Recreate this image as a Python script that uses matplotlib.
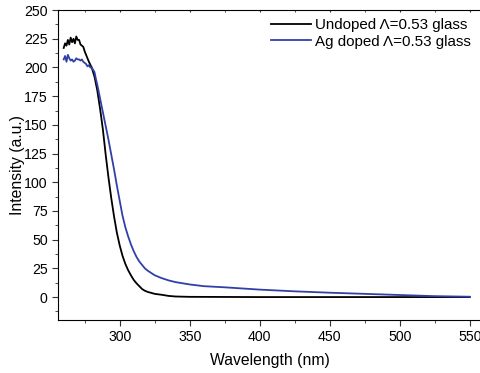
import matplotlib.pyplot as plt
from matplotlib.ticker import MultipleLocator

plt.rcParams['font.family'] = ['Liberation Sans', 'DejaVu Sans']

# undoped glass
wl_undoped = [260, 261, 262, 263, 264, 265, 266, 267, 268, 269, 270, 271, 272, 273, 274,
              275, 276, 277, 278, 280, 282, 284, 286, 288, 290, 292, 294, 296, 298, 300,
              302, 304, 306, 308, 310, 312, 314, 316, 318, 320, 325, 330, 335, 340, 350,
              400, 450, 500, 550]
int_undoped = [217, 221, 219, 224, 220, 226, 222, 225, 221, 227, 224, 224, 220, 219, 218,
               214, 211, 208, 205, 200, 192, 180, 164, 146, 124, 104, 86, 70, 56, 45,
               36, 29, 23.5, 19, 15, 12, 9.5, 7, 5.5, 4.5, 2.8, 2, 1, 0.5, 0.2,
               0, 0, 0, 0]

# Ag doped glass
wl_doped = [260, 261, 262, 263, 264, 265, 266, 267, 268, 269, 270, 271, 272, 273, 274,
            275, 276, 277, 278, 279, 280, 282, 283, 284, 286, 288, 290, 292, 294, 296,
            297, 298, 300, 302, 304, 306, 308, 310, 312, 314, 316, 318, 320, 325, 330,
            335, 340, 350, 360, 375, 400, 425, 450, 475, 500, 525, 550]
int_doped = [207, 210, 205, 211, 208, 206, 207, 205, 206, 208, 207, 207, 206, 207, 205,
             204, 203, 201, 202, 200, 200, 196, 190, 185, 173, 161, 149, 137, 124, 111,
             104, 97, 84, 71, 61, 53, 46, 40, 35, 31, 28, 25, 23, 19, 16.5,
             14.5, 13, 11, 9.5, 8.5, 6.5, 5, 3.8, 2.8, 1.8, 0.8, 0.3]

fig = plt.figure(figsize=(4.8, 3.73), dpi=100)
ax = fig.add_axes([0.121, 0.142, 0.881, 0.831])

ax.plot(wl_undoped, int_undoped, color='black', lw=1.3, label='Undoped \u039b=0.53 glass')
ax.plot(wl_doped, int_doped, color='#3040a8', lw=1.3, label='Ag doped \u039b=0.53 glass')

ax.set_xlim(256, 558)
ax.set_ylim(-20, 250)
ax.xaxis.set_major_locator(MultipleLocator(50))
ax.xaxis.set_minor_locator(MultipleLocator(25))
ax.yaxis.set_major_locator(MultipleLocator(25))
ax.yaxis.set_minor_locator(MultipleLocator(12.5))
ax.tick_params(which='major', direction='out', length=4, labelsize=10.2, color='#333333')
ax.tick_params(which='minor', direction='out', length=2.5, color='#333333')
ax.tick_params(axis='x', which='both', top=True, labeltop=False)
ax.spines['right'].set_visible(False)
# tiny inward ticks on the top spine
for t in ax.xaxis.get_major_ticks() + ax.xaxis.get_minor_ticks():
    t.tick2line.set_markersize(1.5)
    t.tick2line.set_marker(3)

ax.set_xlabel('Wavelength (nm)', fontsize=11.3, labelpad=6)
ax.set_ylabel('Intensity (a.u.)', fontsize=11.3, labelpad=-1)

ax.legend(loc='upper right', frameon=False, fontsize=10.9, handlelength=2.6,
          handletextpad=0.25, labelspacing=0.15, borderaxespad=0.15,
          bbox_to_anchor=(0.995, 1.0))

fig.savefig('out.png', dpi=100)
